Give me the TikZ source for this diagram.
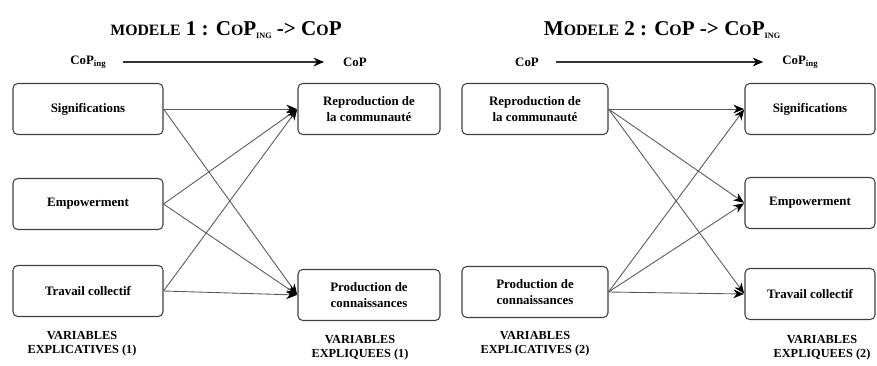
\documentclass[tikz,border=0pt]{standalone}
\usepackage{fontspec}
\setmainfont{Liberation Serif}
\usetikzlibrary{arrows.meta}
\def\petit{\fontsize{13.5}{14}\selectfont}
\def\grandcop{C{\petit O}P}
\def\subING{\raisebox{-0.35ex}{\fontsize{7}{8}\selectfont ING}}
\def\coping{CoP\raisebox{-0.3ex}{\fontsize{7.5}{8}\selectfont ing}}
\tikzset{
  titre/.style={font=\fontsize{18}{20}\selectfont\bfseries},
  entete/.style={font=\fontsize{11}{13}\selectfont\bfseries},
  boite/.style={draw=black!75, line width=0.9pt, rounded corners=4pt, fill=white,
    align=center, inner sep=0pt, minimum height=1.53cm,
    font=\fontsize{11}{13}\selectfont\bfseries},
  legende/.style={align=center, font=\fontsize{10.5}{12}\selectfont\bfseries},
  fleche/.style={draw=black!65, line width=0.75pt,
    -{Stealth[length=9pt,width=7.5pt,black]}, shorten >=0.5pt},
}

\begin{document}
\begin{tikzpicture}[x=0.03cm,y=-0.03cm]
  \useasboundingbox (0,0) rectangle (877,365);
  % titres
  \node[titre] (titre1) at (226,30) {{\petit MODELE} 1 : \grandcop\subING\ -> \grandcop};
  \node[titre] (titre2) at (662,30) {M{\petit ODELE} 2 : \grandcop\ -> \grandcop\subING};
  \node[entete] (ing1) at (88,62) {\coping};
  \node[entete] (cop1) at (355,62) {CoP};
  \node[entete] (cop2) at (527,62) {CoP};
  \node[entete] (ing2) at (800,62) {\coping};
  \draw[fleche, draw=black!80, line width=1pt, shorten <=0.4cm, shorten >=0.45cm] (ing1) -- (cop1);
  \draw[fleche, draw=black!80, line width=1pt, shorten <=0.4cm, shorten >=0.45cm] (cop2) -- (ing2);
  % modele 1
  \node[boite, minimum width=4.5cm] (sig1) at (88,109) {Significations};
  \node[boite, minimum width=4.5cm] (emp1) at (88,204) {Empowerment};
  \node[boite, minimum width=4.5cm] (trav1) at (88,291) {Travail collectif};
  \node[boite, minimum width=4.26cm] (rep1) at (369,109) {Reproduction de\\la communaut\'e};
  \node[boite, minimum width=4.26cm] (prod1) at (369,295) {Production de\\connaissances};
  \foreach \a in {sig1,emp1,trav1}
    \foreach \b in {rep1,prod1}
      \draw[fleche] (\a.east) -- (\b.west);
  % modele 2
  \node[boite, minimum width=4.38cm] (rep2) at (535,109) {Reproduction de\\la communaut\'e};
  \node[boite, minimum width=4.38cm] (prod2) at (535,292) {Production de\\connaissances};
  \node[boite, minimum width=3.9cm] (sig2) at (810,109) {Significations};
  \node[boite, minimum width=3.9cm] (emp2) at (810,203) {Empowerment};
  \node[boite, minimum width=3.9cm] (trav2) at (810,294) {Travail collectif};
  \foreach \a in {rep2,prod2}
    \foreach \b in {sig2,emp2,trav2}
      \draw[fleche] (\a.east) -- (\b.west);
  % legendes
  \node[legende] (expl1) at (82,344) {VARIABLES\\EXPLICATIVES (1)};
  \node[legende] (expq1) at (360,348) {VARIABLES\\EXPLIQUEES (1)};
  \node[legende] (expl2) at (535,344) {VARIABLES\\EXPLICATIVES (2)};
  \node[legende] (expq2) at (822,348) {VARIABLES\\EXPLIQUEES (2)};
\end{tikzpicture}
\end{document}
